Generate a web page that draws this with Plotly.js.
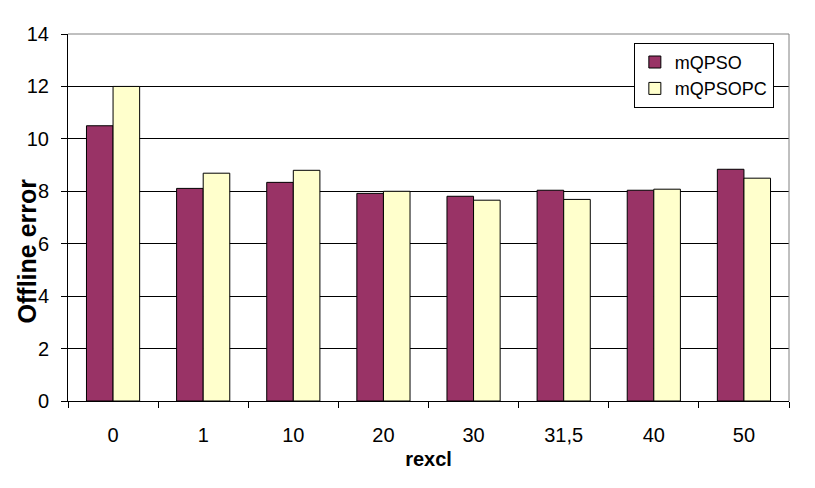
<!DOCTYPE html>
<html>
<head>
<meta charset="utf-8">
<script src="https://cdn.plot.ly/plotly-3.0.1.min.js"></script>
<style>html,body{margin:0;padding:0;background:#fff;}#chart{width:815px;height:488px;}</style>
</head>
<body>
<div id="chart"></div>
<script>
var categories = ["0", "1", "10", "20", "30", "31,5", "40", "50"];
var mqpso = [10.5, 8.11, 8.34, 7.92, 7.81, 8.04, 8.04, 8.84];
var mqpsopc = [12.0, 8.69, 8.80, 8.0, 7.66, 7.69, 8.08, 8.50];
var yTicks = [0, 2, 4, 6, 8, 10, 12, 14];

var traces = [
  {type: "bar", name: "mQPSO", x: categories, y: mqpso,
   marker: {color: "#993366", line: {color: "#000", width: 1}}},
  {type: "bar", name: "mQPSOPC", x: categories, y: mqpsopc,
   marker: {color: "#FFFFCC", line: {color: "#000", width: 1}}}
];

var layout = {
  width: 815, height: 488,
  margin: {l: 68, r: 26, t: 34, b: 87, pad: 0},
  paper_bgcolor: "#fff", plot_bgcolor: "#fff",
  font: {family: "Liberation Sans, Arial, sans-serif", size: 20, color: "#000"},
  barmode: "group", bargap: 0.41, bargroupgap: 0,
  showlegend: true,
  legend: {x: 0.979, y: 0.976, xanchor: "right", yanchor: "top",
           bordercolor: "#000", borderwidth: 1, bgcolor: "#fff",
           font: {size: 18}, itemwidth: 30, tracegroupgap: 0},
  xaxis: {type: "category", showline: true, linecolor: "#000", linewidth: 1,
          ticks: "outside", tickson: "boundaries", ticklen: 6, tickcolor: "#000",
          ticklabelstandoff: 16, showgrid: false, zeroline: false,
          tickfont: {size: 20}, automargin: false,
          title: {text: "<b>r</b><b>excl</b>", font: {size: 20}, standoff: 6}},
  yaxis: {range: [0, 14], tickvals: yTicks, ticktext: yTicks.map(String),
          showline: true, linecolor: "#000", linewidth: 1,
          ticks: "outside", ticklen: 6, tickcolor: "#000",
          showgrid: true, gridcolor: "#000", gridwidth: 1, zeroline: false,
          tickfont: {size: 20}, ticklabelstandoff: 8, automargin: false},
  annotations: [{text: "<b>Offline error</b>", xref: "paper", yref: "paper",
                 x: -0.057, y: 0.41, xanchor: "center", yanchor: "middle",
                 textangle: -90, showarrow: false, font: {size: 25}}],
  shapes: [{type: "path", xref: "paper", yref: "paper", path: "M0,1 L1,1 L1,0",
            line: {color: "#808080", width: 1}, layer: "above"}]
};

Plotly.newPlot("chart", traces, layout, {staticPlot: true, displayModeBar: false});
</script>
</body>
</html>
